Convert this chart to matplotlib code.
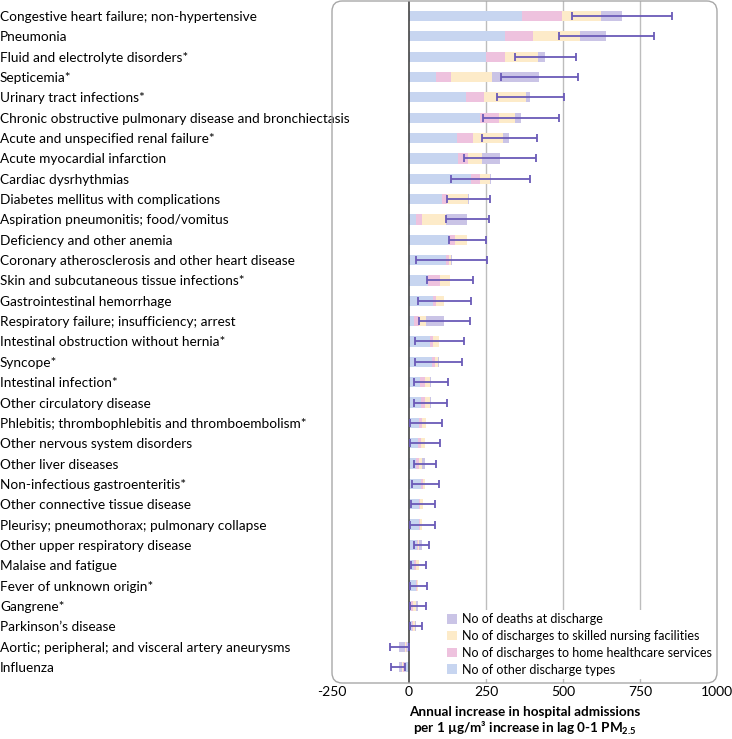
import numpy as np
import matplotlib.pyplot as plt
from matplotlib.patches import FancyBboxPatch

plt.rcParams['font.family'] = ['Lato', 'DejaVu Sans']
plt.rcParams['mathtext.fontset'] = 'custom'
plt.rcParams['mathtext.rm'] = 'Lato'
plt.rcParams['mathtext.bf'] = 'Lato:bold'
plt.rcParams['axes.unicode_minus'] = False

causes = [
    "Congestive heart failure; non-hypertensive", "Pneumonia",
    "Fluid and electrolyte disorders*", "Septicemia*", "Urinary tract infections*",
    "Chronic obstructive pulmonary disease and bronchiectasis",
    "Acute and unspecified renal failure*", "Acute myocardial infarction",
    "Cardiac dysrhythmias", "Diabetes mellitus with complications",
    "Aspiration pneumonitis; food/vomitus", "Deficiency and other anemia",
    "Coronary atherosclerosis and other heart disease",
    "Skin and subcutaneous tissue infections*", "Gastrointestinal hemorrhage",
    "Respiratory failure; insufficiency; arrest",
    "Intestinal obstruction without hernia*", "Syncope*", "Intestinal infection*",
    "Other circulatory disease", "Phlebitis; thrombophlebitis and thromboembolism*",
    "Other nervous system disorders", "Other liver diseases",
    "Non-infectious gastroenteritis*", "Other connective tissue disease",
    "Pleurisy; pneumothorax; pulmonary collapse", "Other upper respiratory disease",
    "Malaise and fatigue", "Fever of unknown origin*", "Gangrene*",
    "Parkinson\u2019s disease", "Aortic; peripheral; and visceral artery aneurysms",
    "Influenza",
]

other = [367, 312, 249, 88, 184, 232, 156, 160, 202, 106, 23, 129, 119, 62, 78, 16,
         67, 74, 37, 40, 32, 29, 22, 40, 34, 32, 26, 16, 22, 6, 9, -6, -14]
home = [131, 90, 63, 47, 58, 59, 51, 33, 30, 17, 20, 21, 10, 38, 11, 15,
        10, 9, 15, 13, 10, 9, 10, 4, 3, 4, 3, 7, 3, 8, 4, -3, -4]
nursing = [126, 152, 108, 136, 137, 52, 97, 44, 31, 69, 76, 38, 8, 33, 25, 25,
           21, 12, 17, 16, 14, 14, 10, 9, 9, 7, 4, 8, 5, 10, 8, -5, -6]
deaths = [69, 87, 23, 152, 15, 22, 22, 58, 2, 2, 70, 1, 1, 1, 1, 58,
          1, 1, 1, 1, 0, 0, 11, 0, 0, 0, 8, 0, 0, 4, 2, -18, -10]
ci_low = [529, 487, 345, 298, 286, 241, 238, 180, 137, 124, 120, 129, 22, 60, 28, 34,
          21, 21, 15, 17, 4, 2, 17, 9, 6, 2, 17, 6, 2, 2, 4, -62, -57]
ci_high = [855, 795, 542, 549, 503, 488, 416, 413, 394, 263, 261, 250, 254, 208, 202, 197,
           179, 171, 127, 123, 108, 102, 88, 97, 84, 83, 65, 56, 58, 54, 42, -1, -12]

series = [
    ("No of other discharge types", other, "#c7d5f0"),
    ("No of discharges to home healthcare services", home, "#eec2de"),
    ("No of discharges to skilled nursing facilities", nursing, "#fdebc9"),
    ("No of deaths at discharge", deaths, "#cac4e6"),
]

fig = plt.figure(figsize=(7.32, 7.39), dpi=100)
ax = fig.add_axes([332/732, 1 - 683/739, 385/732, 682/739])

y = np.arange(len(causes))
pos = np.zeros(len(causes))
neg = np.zeros(len(causes))
handles = []
for name, vals, col in series:
    v = np.array(vals, dtype=float)
    left = np.where(v >= 0, pos, neg)
    h = ax.barh(y, v, left=left, height=0.5, color=col, label=name, zorder=2)
    handles.append(h)
    pos = pos + np.where(v >= 0, v, 0)
    neg = neg + np.where(v < 0, v, 0)

total = pos + neg
lo = np.array(ci_low)
hi = np.array(ci_high)
ax.errorbar(total, y, xerr=[total - lo, hi - total], fmt='none', ecolor='#6a5ab8',
            elinewidth=1.3, capsize=3, capthick=1.3, zorder=4)

for g in [250, 500, 750]:
    ax.axvline(g, color='#bdbdbd', lw=1, zorder=1)
ax.axvline(0, color='#444444', lw=1.2, zorder=3)

ax.set_xlim(-250, 1000)
ax.set_ylim(32.79, -0.74)
ax.set_xticks([-250, 0, 250, 500, 750, 1000])
ax.set_yticks(y)
ax.set_yticklabels(causes, fontsize=9.8)
for lab in ax.get_yticklabels():
    lab.set_horizontalalignment('left')
ax.tick_params(axis='y', length=0, pad=332 * 0.72)
ax.tick_params(axis='x', length=0, labelsize=10, pad=2)
for s in ax.spines.values():
    s.set_visible(False)
ax.patch.set_visible(False)

ax.set_xlabel("Annual increase in hospital admissions\nper 1 \u00b5g/m\u00b3 increase in lag 0-1 PM$_{\\mathbf{2.5}}$",
              fontsize=9.7, fontweight='bold', labelpad=6, linespacing=1.15)

frame = FancyBboxPatch((332/732, 1 - 683/739), 385/732, 682/739,
                       boxstyle="round,pad=0,rounding_size=0.014",
                       transform=fig.transFigure, fill=False, edgecolor='#a8a8a8', lw=1)
fig.patches.append(frame)

leg = ax.legend(handles=handles[::-1], loc='lower left', bbox_to_anchor=(0.279, 0.0),
                frameon=True, fontsize=9, handlelength=0.8, handleheight=0.8,
                handletextpad=0.4, labelspacing=0.38, borderpad=0.3, borderaxespad=0.3)
leg.get_frame().set_edgecolor('none')
leg.get_frame().set_facecolor('white')
leg.get_frame().set_alpha(1)
leg.set_zorder(5)

fig.savefig("out.png", dpi=100)
